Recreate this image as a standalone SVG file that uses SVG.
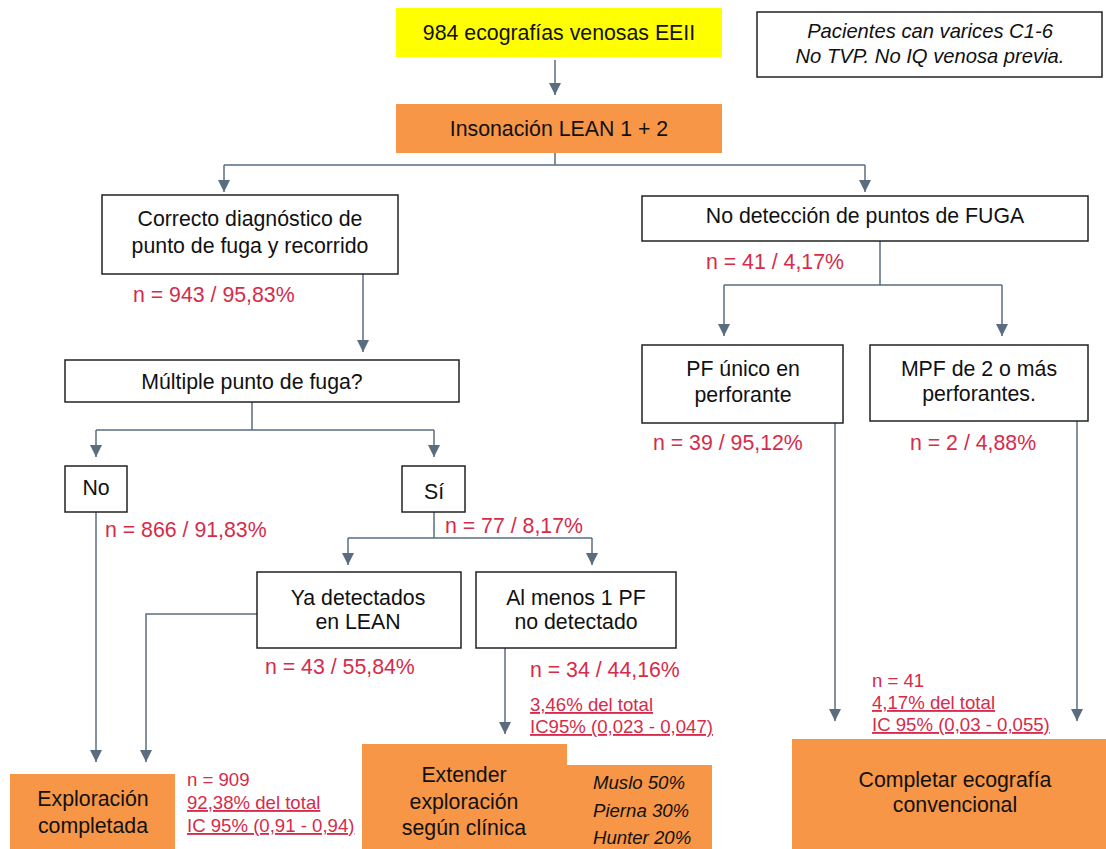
<svg xmlns="http://www.w3.org/2000/svg" width="1106" height="849" viewBox="0 0 1106 849">
<style>
text{font-family:"Liberation Sans",Arial,sans-serif;font-size:21.3px;fill:#111;text-anchor:middle}
.box{fill:#fff;stroke:#222;stroke-width:1.5}
.org{fill:#F79646}
.yel{fill:#FFFF00}
.red{fill:#D62B4A;text-anchor:start;font-size:21.3px}
.sm{font-size:18.6px}
.u{text-decoration:underline}
.it{font-style:italic}
.c{fill:none;stroke:#5A6D80;stroke-width:1.5}
</style>
<defs>
<marker id="arr" markerWidth="14" markerHeight="12" refX="12" refY="6" orient="auto" markerUnits="userSpaceOnUse">
<path d="M0,0 L12,6 L0,12 z" fill="#5A6D80"/>
</marker>
</defs>
<g id="connectors">
<path class="c" d="M555,60 V95" marker-end="url(#arr)"/>
<path class="c" d="M555,153 V165 M224,165 H865"/>
<path class="c" d="M224,165 V192" marker-end="url(#arr)"/>
<path class="c" d="M865,165 V192" marker-end="url(#arr)"/>
<path class="c" d="M363,274 V352" marker-end="url(#arr)"/>
<path class="c" d="M252,402 V430 M96,430 H434"/>
<path class="c" d="M96,430 V457" marker-end="url(#arr)"/>
<path class="c" d="M434,430 V457" marker-end="url(#arr)"/>
<path class="c" d="M96,512 V762" marker-end="url(#arr)"/>
<path class="c" d="M434,512 V538 M348,538 H592"/>
<path class="c" d="M348,538 V565" marker-end="url(#arr)"/>
<path class="c" d="M592,538 V565" marker-end="url(#arr)"/>
<path class="c" d="M257,614 H146 V762" marker-end="url(#arr)"/>
<path class="c" d="M505,648 V734" marker-end="url(#arr)"/>
<path class="c" d="M880,241 V285 M724,285 H1002"/>
<path class="c" d="M724,285 V336" marker-end="url(#arr)"/>
<path class="c" d="M1002,285 V336" marker-end="url(#arr)"/>
<path class="c" d="M835,423 V721" marker-end="url(#arr)"/>
<path class="c" d="M1077,421 V721" marker-end="url(#arr)"/>
</g>
<g id="n-start">
<rect class="yel" x="396" y="8" width="326" height="49"/>
<text x="559" y="40">984 ecografías venosas EEII</text>
</g>
<g id="n-note">
<rect class="box" x="757" y="12" width="345" height="65"/>
<text class="it" x="930" y="38" style="font-size:20.2px">Pacientes can varices C1-6</text>
<text class="it" x="930" y="63" style="font-size:20.2px">No TVP. No IQ venosa previa.</text>
</g>
<g id="n-lean">
<rect class="org" x="396" y="104" width="326" height="49"/>
<text x="559" y="136">Insonación LEAN 1 + 2</text>
</g>
<g id="n-correcto">
<rect class="box" x="102" y="195" width="296" height="79"/>
<text x="250" y="226">Correcto diagnóstico de</text>
<text x="250" y="253">punto de fuga y recorrido</text>
<text class="red" x="133" y="302">n = 943 / 95,83%</text>
</g>
<g id="n-multiple">
<rect class="box" x="65" y="360" width="394" height="42"/>
<text x="252" y="389">Múltiple punto de fuga?</text>
</g>
<g id="n-no">
<rect class="box" x="65" y="466" width="62" height="46"/>
<text x="96" y="495">No</text>
<text class="red" x="105" y="537">n = 866 / 91,83%</text>
</g>
<g id="n-si">
<rect class="box" x="402" y="466" width="63" height="46"/>
<text x="434" y="499">Sí</text>
<text class="red" x="445" y="533">n = 77 / 8,17%</text>
</g>
<g id="n-ya">
<rect class="box" x="257" y="572" width="204" height="76"/>
<text x="358" y="605">Ya detectados</text>
<text x="358" y="629">en LEAN</text>
<text class="red" x="265" y="674">n = 43 / 55,84%</text>
</g>
<g id="n-almenos">
<rect class="box" x="476" y="572" width="200" height="76"/>
<text x="576" y="605">Al menos 1 PF</text>
<text x="576" y="629">no detectado</text>
<text class="red" x="530" y="677">n = 34 / 44,16%</text>
<text class="red u sm" x="530" y="711">3,46% del total</text>
<text class="red u sm" x="530" y="733">IC95% (0,023 - 0,047)</text>
</g>
<g id="n-exploracion">
<rect class="org" x="10" y="774" width="165" height="75"/>
<text x="93" y="806">Exploración</text>
<text x="93" y="833">completada</text>
<text class="red sm" x="187" y="786">n = 909</text>
<text class="red u sm" x="187" y="809">92,38% del total</text>
<text class="red u sm" x="187" y="832">IC 95% (0,91 - 0,94)</text>
</g>
<g id="n-extender">
<path class="org" d="M362,744 H567 V765 H712 V849 H362 Z"/>
<text x="464" y="782">Extender</text>
<text x="464" y="809">exploración</text>
<text x="464" y="835">según clínica</text>
<text class="it sm" x="593" y="789" style="text-anchor:start">Muslo 50%</text>
<text class="it sm" x="593" y="817" style="text-anchor:start">Pierna 30%</text>
<text class="it sm" x="593" y="844" style="text-anchor:start">Hunter 20%</text>
</g>
<g id="n-nodeteccion">
<rect class="box" x="642" y="196" width="446" height="45"/>
<text x="865" y="223">No detección de puntos de FUGA</text>
<text class="red" x="706" y="269">n = 41 / 4,17%</text>
</g>
<g id="n-pfunico">
<rect class="box" x="642" y="345" width="201" height="78"/>
<text x="743" y="376">PF único en</text>
<text x="743" y="402">perforante</text>
<text class="red" x="653" y="450">n = 39 / 95,12%</text>
</g>
<g id="n-mpf">
<rect class="box" x="870" y="345" width="218" height="76"/>
<text x="979" y="376">MPF de 2 o más</text>
<text x="979" y="401">perforantes.</text>
<text class="red" x="910" y="450">n = 2 / 4,88%</text>
</g>
<g id="n-completar">
<rect class="org" x="792" y="739" width="314" height="110"/>
<text x="955" y="787">Completar ecografía</text>
<text x="955" y="812">convencional</text>
<text class="red sm" x="872" y="687">n = 41</text>
<text class="red u sm" x="872" y="709">4,17% del total</text>
<text class="red u sm" x="872" y="731">IC 95% (0,03 - 0,055)</text>
</g>
</svg>
